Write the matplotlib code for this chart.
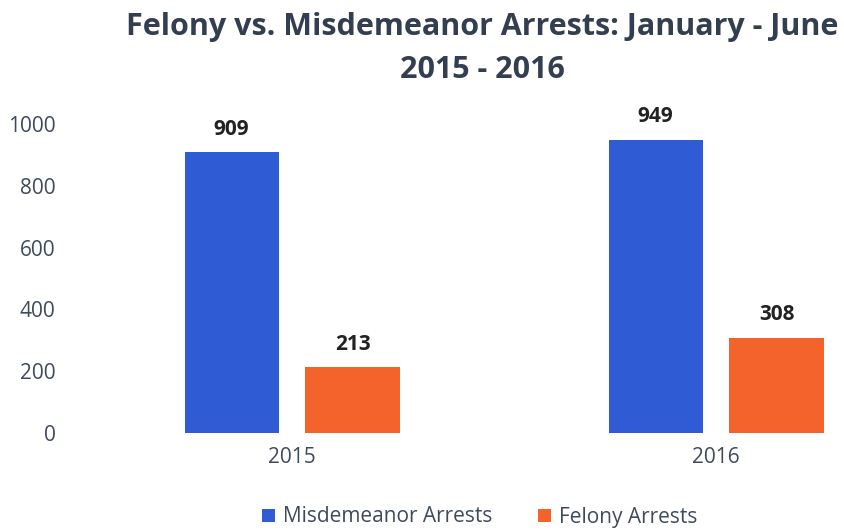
import numpy as np
import matplotlib.pyplot as plt

years = ['2015', '2016']
misdemeanor = [909, 949]
felony = [213, 308]

blue = '#2F5BD4'
orange = '#F4632B'
txt = '#3F4A5C'

plt.rcParams['font.family'] = ['Open Sans', 'DejaVu Sans']

fig = plt.figure(figsize=(8.45, 5.31), dpi=100)
ax = fig.add_axes([75 / 845, 98 / 531, 770 / 845, 309 / 531])

x = np.arange(len(years))
w = 0.222
b1 = ax.bar(x - 0.1425, misdemeanor, w, color=blue, label='Misdemeanor Arrests')
b2 = ax.bar(x + 0.1425, felony, w, color=orange, label='Felony Arrests')

for bars in (b1, b2):
    for r in bars:
        ax.text(r.get_x() + r.get_width() / 2, r.get_height() + 40, str(int(r.get_height())),
                ha='center', va='bottom', fontsize=15, fontweight='bold', color='#222222')

ax.set_xlim(-0.512, 1.304)
ax.set_ylim(0, 1000)
ax.set_yticks(range(0, 1001, 200))
ax.set_xticks(x)
ax.set_xticklabels(years)
ax.tick_params(axis='both', length=0, labelsize=15, labelcolor=txt)
ax.tick_params(axis='x', pad=10)
ax.tick_params(axis='y', pad=14)
for s in ax.spines.values():
    s.set_visible(False)

fig.text(482 / 845, 1 - 27 / 531, 'Felony vs. Misdemeanor Arrests: January - June',
         ha='center', va='center', fontsize=22, fontweight='bold', color='#333F50')
fig.text(482 / 845, 1 - 70 / 531, '2015 - 2016',
         ha='center', va='center', fontsize=22, fontweight='bold', color='#333F50')

fig.legend(loc='center', bbox_to_anchor=(480 / 845, 1 - 517 / 531), ncol=2, frameon=False,
           fontsize=15, labelcolor=txt, handlelength=0.6, handleheight=0.6,
           columnspacing=2.2, handletextpad=0.4)

fig.savefig('out.png', dpi=100)
